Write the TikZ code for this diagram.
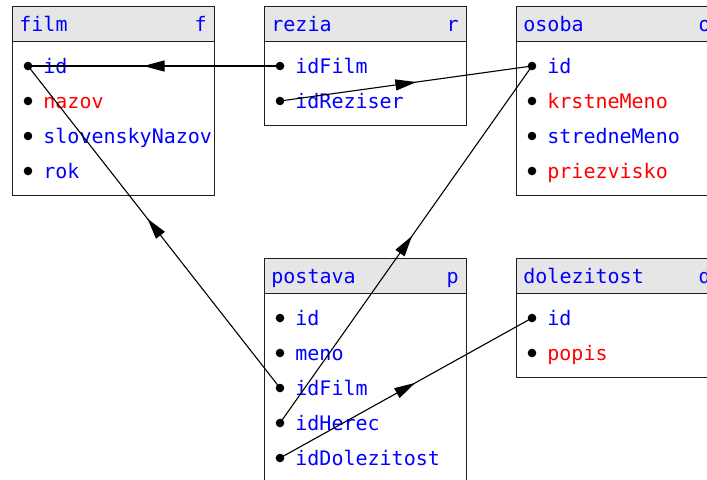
\documentclass[tikz,border=0pt]{standalone}
\usepackage{fontspec}
\setmonofont{DejaVu Sans Mono}
\usepackage{xcolor}
\definecolor{keyBlue}{RGB}{0, 0, 255}
\definecolor{attrRed}{RGB}{255, 0, 0}
\definecolor{headGray}{RGB}{230, 230, 230}
\definecolor{lineGray}{RGB}{30, 30, 30}
\usepackage{tikz}
\usetikzlibrary{arrows.meta, decorations.markings}

\begin{document}
\begin{tikzpicture}[x=0.5pt, y=-0.5pt,
  head/.style={rectangle, draw=lineGray, fill=headGray, line width=0.7pt,
               anchor=north west, inner sep=0pt,
               minimum width=101pt, minimum height=17.5pt},
  body/.style={rectangle, draw=lineGray, fill=white, line width=0.7pt,
               anchor=north west, inner sep=0pt, minimum width=101pt},
  title/.style={anchor=mid west, inner sep=0pt, yshift=-1.5pt, font=\ttfamily, text=keyBlue},
  alias/.style={anchor=mid east, inner sep=0pt, yshift=-1.5pt, font=\ttfamily, text=keyBlue},
  dot/.style={circle, fill=black, inner sep=0pt, minimum size=4.3pt},
  key/.style={anchor=mid west, inner sep=0pt, yshift=-1.5pt, font=\ttfamily, text=keyBlue},
  attr/.style={anchor=mid west, inner sep=0pt, yshift=-1.5pt, font=\ttfamily, text=attrRed},
  conn/.style={draw=black, line width=0.55pt, postaction={decorate},
               decoration={markings, mark=at position 0.5 with
                 {\arrow[xshift=5.25pt]{Triangle[length=10.5pt, width=5.5pt]}}}}]

  \clip (0, 0) rectangle (707, 479);
  \fill[white] (0, 0) rectangle (707, 479);

  % ── film ─────────────────────────────────────────────────────────
  \node[head] (film) at (12, 6) {};
  \node[body, minimum height=77pt] (film-body) at (12, 41) {};
  \node[title] (film-t) at (19, 24) {film};
  \node[alias] (film-a) at (207, 24) {f};
  \node[dot] (film-id) at (28, 66) {};
  \node[key] (film-id-t) at (43, 66) {id};
  \node[dot] (film-nazov) at (28, 101) {};
  \node[attr] (film-nazov-t) at (43, 101) {nazov};
  \node[dot] (film-snazov) at (28, 136) {};
  \node[key] (film-snazov-t) at (43, 136) {slovenskyNazov};
  \node[dot] (film-rok) at (28, 171) {};
  \node[key] (film-rok-t) at (43, 171) {rok};

  % ── rezia ────────────────────────────────────────────────────────
  \node[head] (rezia) at (264, 6) {};
  \node[body, minimum height=42pt] (rezia-body) at (264, 41) {};
  \node[title] (rezia-t) at (271, 24) {rezia};
  \node[alias] (rezia-a) at (459, 24) {r};
  \node[dot] (rezia-idfilm) at (280, 66) {};
  \node[key] (rezia-idfilm-t) at (295, 66) {idFilm};
  \node[dot] (rezia-idreziser) at (280, 101) {};
  \node[key] (rezia-idreziser-t) at (295, 101) {idReziser};

  % ── osoba ────────────────────────────────────────────────────────
  \node[head] (osoba) at (516, 6) {};
  \node[body, minimum height=77pt] (osoba-body) at (516, 41) {};
  \node[title] (osoba-t) at (523, 24) {osoba};
  \node[alias] (osoba-a) at (711, 24) {o};
  \node[dot] (osoba-id) at (532, 66) {};
  \node[key] (osoba-id-t) at (547, 66) {id};
  \node[dot] (osoba-krstne) at (532, 101) {};
  \node[attr] (osoba-krstne-t) at (547, 101) {krstneMeno};
  \node[dot] (osoba-stredne) at (532, 136) {};
  \node[key] (osoba-stredne-t) at (547, 136) {stredneMeno};
  \node[dot] (osoba-priezvisko) at (532, 171) {};
  \node[attr] (osoba-priezvisko-t) at (547, 171) {priezvisko};

  % ── postava ──────────────────────────────────────────────────────
  \node[head] (postava) at (264, 258) {};
  \node[body, minimum height=94.5pt] (postava-body) at (264, 293) {};
  \node[title] (postava-t) at (271, 276) {postava};
  \node[alias] (postava-a) at (459, 276) {p};
  \node[dot] (postava-id) at (280, 318) {};
  \node[key] (postava-id-t) at (295, 318) {id};
  \node[dot] (postava-meno) at (280, 353) {};
  \node[key] (postava-meno-t) at (295, 353) {meno};
  \node[dot] (postava-idfilm) at (280, 388) {};
  \node[key] (postava-idfilm-t) at (295, 388) {idFilm};
  \node[dot] (postava-idherec) at (280, 423) {};
  \node[key] (postava-idherec-t) at (295, 423) {idHerec};
  \node[dot] (postava-iddol) at (280, 458) {};
  \node[key] (postava-iddol-t) at (295, 458) {idDolezitost};

  % ── dolezitost ───────────────────────────────────────────────────
  \node[head] (dolezitost) at (516, 258) {};
  \node[body, minimum height=42pt] (dolezitost-body) at (516, 293) {};
  \node[title] (dolezitost-t) at (523, 276) {dolezitost};
  \node[alias] (dolezitost-a) at (711, 276) {d};
  \node[dot] (dolezitost-id) at (532, 318) {};
  \node[key] (dolezitost-id-t) at (547, 318) {id};
  \node[dot] (dolezitost-popis) at (532, 353) {};
  \node[attr] (dolezitost-popis-t) at (547, 353) {popis};

  % ── foreign keys ─────────────────────────────────────────────────
  \draw[conn] (rezia-idfilm.center) -- (film-id.center);
  \draw[conn] (rezia-idreziser.center) -- (osoba-id.center);
  \draw[conn] (postava-idfilm.center) -- (film-id.center);
  \draw[conn] (postava-idherec.center) -- (osoba-id.center);
  \draw[conn] (postava-iddol.center) -- (dolezitost-id.center);

\end{tikzpicture}
\end{document}
